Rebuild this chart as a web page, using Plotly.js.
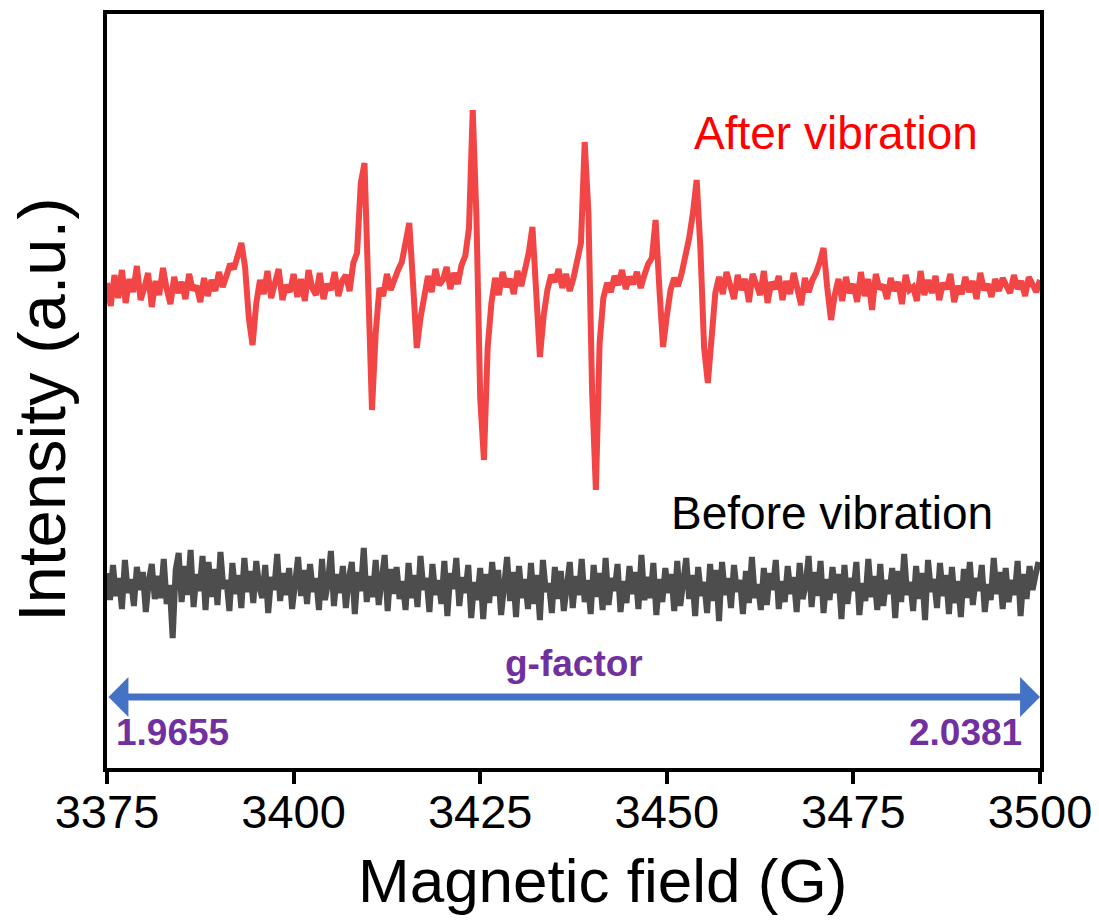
<!DOCTYPE html>
<html>
<head>
<meta charset="utf-8">
<script src="https://cdn.plot.ly/plotly-3.0.1.min.js"></script>
<style>html,body{margin:0;padding:0;background:#fff;}#chart{width:1099px;height:922px;}</style>
</head>
<body>
<div id="chart"></div>
<script>
// Magnetic field sampling (G)
const fieldStart = 3375;
const fieldStepAfter = 0.5;
const fieldStepBefore = 0.4;
const xTicks = [3375, 3400, 3425, 3450, 3475, 3500];
const xTickLabels = ['3375', '3400', '3425', '3450', '3475', '3500'];

// After vibration (a.u., offset)
const afterVibration = [
  48.5, 46.2, 49.3, 47.0, 49.8, 46.5, 48.9, 47.6, 50.2, 46.8,
  48.0, 49.5, 46.1, 48.7, 47.3, 50.0, 47.9, 46.4, 49.1, 47.5,
  48.6, 46.9, 49.4, 47.8, 48.2, 46.6, 49.0, 47.2, 48.8, 47.7,
  49.6, 48.1, 49.2, 50.4, 49.9, 51.3, 52.5, 50.1, 45.0, 42.3,
  46.5, 48.8, 47.4, 49.7, 47.0, 48.5, 49.9, 46.8, 48.3, 47.6,
  49.4, 47.1, 48.9, 46.7, 49.8, 48.0, 47.3, 49.5, 46.9, 48.4,
  47.8, 49.6, 47.2, 48.7, 49.3, 47.7, 50.5, 51.5, 58.5, 60.5,
  45.5, 35.8, 43.5, 48.0, 47.2, 49.4, 47.8, 48.9, 49.8, 50.6,
  52.5, 54.5, 48.5, 42.0, 45.0, 47.5, 49.2, 47.6, 49.9, 48.3,
  48.8, 50.1, 47.9, 49.5, 48.4, 50.3, 51.2, 54.0, 65.8, 55.0,
  37.0, 30.8, 42.0, 46.5, 49.0, 47.3, 49.6, 48.1, 48.9, 47.4,
  49.7, 48.2, 50.0, 51.5, 54.1, 47.5, 41.1, 45.2, 47.8, 49.3,
  48.6, 49.9, 48.0, 49.4, 47.7, 49.0, 50.8, 52.5, 62.6, 55.5,
  37.5, 27.8, 42.5, 47.0, 48.5, 47.6, 49.2, 48.3, 49.8, 47.9,
  49.1, 48.4, 49.6, 48.0, 49.3, 50.4, 51.0, 54.8, 48.0, 42.1,
  45.2, 47.8, 49.0, 48.2, 49.5, 51.0, 53.0, 55.5, 58.8, 52.0,
  42.0, 38.5, 44.0, 47.5, 49.1, 47.4, 49.6, 48.2, 46.9, 49.3,
  47.8, 48.9, 46.6, 49.4, 48.1, 47.3, 49.7, 46.5, 48.6, 47.9,
  49.2, 46.8, 48.7, 47.4, 49.5, 48.0, 46.3, 49.0, 47.6, 48.8,
  49.5, 50.6, 52.0, 48.0, 44.8, 47.3, 48.9, 46.7, 49.1, 47.5,
  48.4, 46.6, 49.6, 47.2, 48.9, 45.8, 49.4, 47.9, 48.3, 46.9,
  49.0, 47.7, 48.6, 46.4, 49.3, 47.8, 48.1, 46.7, 49.7, 47.3,
  48.8, 47.5, 49.2, 46.8, 48.5, 47.9, 49.4, 46.6, 48.2, 47.4,
  49.1, 47.6, 48.7, 46.9, 49.5, 47.8, 48.4, 47.1, 48.9, 47.7,
  49.0, 48.2, 47.5, 49.3, 47.9, 48.7, 47.2, 49.1, 48.4, 47.6, 48.8
];

// Before vibration (a.u., offset)
const beforeVibration = [
  19.5, 16.8, 20.3, 17.2, 19.0, 15.9, 20.8, 17.5, 18.9, 16.2,
  20.1, 17.8, 19.6, 15.6, 18.7, 20.4, 16.9, 19.2, 17.0, 20.9,
  16.4, 18.3, 13.0, 19.8, 21.5, 16.6, 20.2, 17.3, 21.8, 16.1,
  19.4, 17.7, 21.2, 15.8, 20.6, 17.1, 19.9, 16.3, 21.6, 17.9,
  18.8, 15.7, 20.5, 17.4, 19.3, 16.0, 21.0, 17.6, 19.7, 16.5,
  20.7, 18.1, 17.0, 20.3, 15.5, 19.1, 17.8, 21.4, 16.7, 19.5,
  17.3, 20.0, 15.9, 18.6, 21.1, 17.2, 19.8, 16.4, 20.4, 17.6,
  19.0, 15.8, 20.9, 16.8, 18.5, 21.7, 16.2, 19.4, 17.5, 20.2,
  16.0, 18.9, 20.6, 15.4, 19.6, 17.7, 22.0, 16.6, 19.2, 17.1,
  20.8, 16.3, 18.4, 21.3, 15.7, 19.9, 17.4, 20.1, 16.9, 18.7,
  15.8, 20.5, 17.0, 19.3, 16.1, 21.2, 17.8, 19.0, 15.6, 20.4,
  17.3, 18.8, 16.4, 20.7, 15.2, 19.5, 17.9, 21.0, 16.2, 19.1,
  17.5, 20.3, 15.0, 18.6, 16.8, 20.0, 14.9, 19.4, 16.5, 20.6,
  17.2, 19.8, 15.3, 18.2, 21.1, 16.7, 19.6, 15.1, 20.2, 17.0,
  18.9, 15.9, 20.5, 16.4, 19.3, 14.8, 20.8, 17.6, 18.5, 15.5,
  20.1, 16.9, 19.7, 15.7, 18.4, 20.6, 16.0, 19.2, 17.3, 20.9,
  16.6, 18.8, 15.4, 20.3, 17.1, 19.5, 15.8, 21.0, 16.3, 19.0,
  17.7, 20.4, 15.6, 18.7, 16.5, 20.2, 17.4, 19.6, 15.9, 21.3,
  16.8, 19.1, 17.0, 20.5, 15.3, 18.9, 16.6, 20.0, 17.5, 19.4,
  15.7, 20.7, 16.2, 18.5, 21.0, 16.9, 19.3, 15.2, 20.1, 17.2,
  18.6, 15.5, 20.4, 16.7, 19.8, 14.7, 20.6, 17.3, 19.0, 16.0,
  20.3, 17.6, 18.8, 15.4, 19.7, 16.5, 21.1, 17.0, 18.4, 15.8,
  20.0, 16.3, 19.5, 17.8, 20.8, 15.9, 18.7, 16.6, 20.2, 17.4,
  19.1, 15.6, 20.5, 16.9, 18.3, 21.2, 16.1, 19.6, 17.2, 20.7,
  15.5, 18.9, 16.8, 20.1, 17.5, 19.4, 14.9, 20.3, 16.4, 19.0,
  17.7, 20.6, 15.3, 18.5, 16.7, 20.9, 17.1, 19.2, 15.8, 20.4,
  16.2, 18.8, 17.4, 20.0, 15.0, 19.7, 16.6, 21.4, 17.3, 18.6,
  15.7, 20.2, 16.9, 19.5, 14.8, 20.8, 17.6, 18.9, 16.0, 20.5,
  17.2, 19.3, 15.4, 20.1, 16.5, 18.7, 15.1, 19.9, 17.0, 20.6,
  16.3, 19.0, 17.7, 20.3, 15.6, 18.4, 16.8, 21.0, 17.4, 19.6,
  15.9, 20.0, 16.6, 18.8, 17.3, 20.7, 15.2, 19.4, 16.9, 20.2,
  17.8, 19.3, 20.6
];

const arrowLevel = 7.1;
const gFactorLow = '1.9655';
const gFactorHigh = '2.0381';

const traces = [
  {
    type: 'scatter', mode: 'lines', name: 'After vibration',
    x0: fieldStart, dx: fieldStepAfter, y: afterVibration,
    line: {color: '#f24545', width: 6, shape: 'linear'},
    hoverinfo: 'skip'
  },
  {
    type: 'scatter', mode: 'lines', name: 'Before vibration',
    x0: fieldStart, dx: fieldStepBefore, y: beforeVibration,
    line: {color: '#4d4d4d', width: 6},
    hoverinfo: 'skip'
  }
];

const font = 'Liberation Sans, Arial, sans-serif';
const plotW = 1099 - 107 - 59, plotH = 922 - 14 - 154;

const layout = {
  width: 1099, height: 922,
  margin: {l: 107, r: 59, t: 14, b: 154},
  paper_bgcolor: '#ffffff', plot_bgcolor: '#ffffff',
  showlegend: false,
  font: {family: font, color: '#000'},
  xaxis: {
    range: [3375, 3500], tickvals: xTicks, ticktext: xTickLabels,
    ticks: 'outside', ticklen: 12, tickwidth: 4, tickcolor: '#000',
    ticklabelstandoff: -12,
    showline: true, linewidth: 4, linecolor: '#000', mirror: true,
    showgrid: false, zeroline: false,
    tickfont: {size: 47, family: font, color: '#000'}
  },
  yaxis: {
    range: [0, 75.4], showticklabels: false, ticks: '',
    showline: true, linewidth: 4, linecolor: '#000', mirror: true,
    showgrid: false, zeroline: false
  },
  annotations: [
    {x: (602 - 107) / plotW, y: (768 - 880) / plotH, xref: 'paper', yref: 'paper',
     xanchor: 'center', yanchor: 'middle', text: 'Magnetic field (G)', showarrow: false,
     font: {size: 62, family: font, color: '#000'}},
    {x: (42 - 107) / plotW, y: (768 - 410) / plotH, xref: 'paper', yref: 'paper',
     xanchor: 'center', yanchor: 'middle', text: 'Intensity (a.u.)', showarrow: false, textangle: -90,
     font: {size: 67, family: font, color: '#000'}},
    {x: 3500, y: arrowLevel, ax: 3375, ay: arrowLevel, xref: 'x', yref: 'y', axref: 'x', ayref: 'y',
     text: '', showarrow: true, arrowside: 'end+start', arrowhead: 1, arrowsize: 0.95, arrowwidth: 7, arrowcolor: '#4472C4'},
    {x: 3437.5, y: 10.5, xref: 'x', yref: 'y', text: '<b>g-factor</b>', showarrow: false,
     font: {size: 37, family: font, color: '#7030A0'}},
    {x: 3376.0, y: 3.6, xref: 'x', yref: 'y', text: '<b>' + gFactorLow + '</b>', showarrow: false, xanchor: 'left',
     font: {size: 37, family: font, color: '#7030A0'}},
    {x: 3497.8, y: 3.6, xref: 'x', yref: 'y', text: '<b>' + gFactorHigh + '</b>', showarrow: false, xanchor: 'right',
     font: {size: 37, family: font, color: '#7030A0'}},
    {x: 3472.7, y: 63.5, xref: 'x', yref: 'y', text: 'After vibration', showarrow: false,
     font: {size: 46, family: font, color: '#ff0000'}},
    {x: 3472.1, y: 25.5, xref: 'x', yref: 'y', text: 'Before vibration', showarrow: false,
     font: {size: 46, family: font, color: '#000000'}}
  ]
};

Plotly.newPlot('chart', traces, layout, {displayModeBar: false, staticPlot: true});
</script>
</body>
</html>
